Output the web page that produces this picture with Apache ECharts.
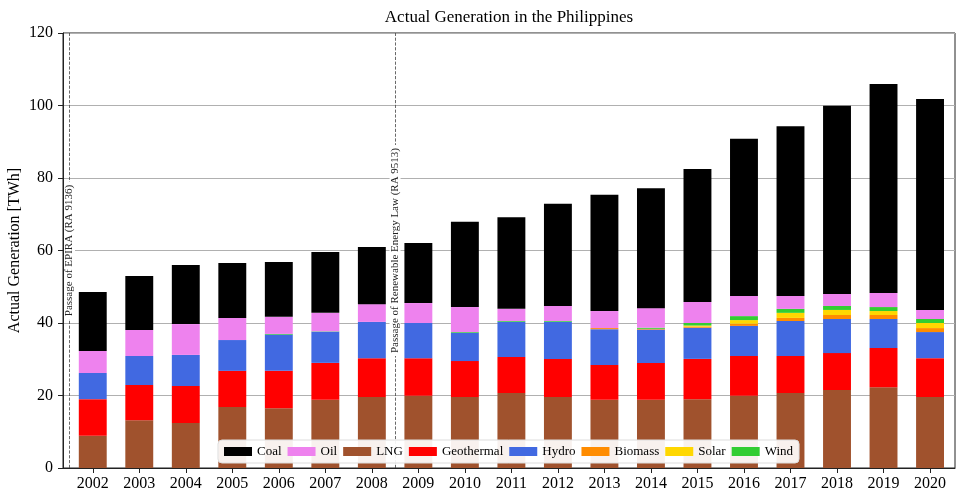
<!DOCTYPE html>
<html>
<head>
<meta charset="utf-8">
<script src="https://cdn.jsdelivr.net/npm/echarts@6/dist/echarts.min.js"></script>
<style>
html,body{margin:0;padding:0;background:#fff;}
#chart{width:960px;height:498px;}
</style>
</head>
<body>
<div id="chart"></div>
<script>
var years = [2002,2003,2004,2005,2006,2007,2008,2009,2010,2011,2012,2013,2014,2015,2016,2017,2018,2019,2020];
var lng        = [8.9,13.2,12.4,16.8,16.5,18.8,19.6,19.9,19.6,20.7,19.6,18.8,18.8,19.0,19.9,20.7,21.5,22.3,19.6];
var geothermal = [10.1,9.7,10.2,10.0,10.3,10.2,10.7,10.4,9.9,9.9,10.5,9.6,10.2,11.1,11.0,10.2,10.2,10.8,10.7];
var hydro      = [7.2,8.0,8.6,8.5,10.0,8.6,10.0,9.7,7.8,9.75,10.25,9.9,9.2,8.6,8.3,9.65,9.4,8.0,7.2];
var biomass    = [0,0,0,0,0,0,0,0,0,0,0,0.3,0.2,0.3,0.6,0.85,1.1,1.1,1.1];
var solar      = [0,0,0,0,0,0,0,0,0,0,0,0,0,0.3,1.0,1.4,1.4,1.1,1.4];
var wind       = [0,0,0,0,0.2,0.1,0,0,0.2,0.2,0.2,0,0.3,0.7,1.1,1.1,1.1,1.1,1.1];
var oil        = [6.1,7.2,8.5,6.1,4.7,5.1,4.9,5.5,6.9,3.35,4.15,4.7,5.4,5.8,5.55,3.55,3.3,3.9,2.5];
var coal       = [16.25,14.9,16.3,15.15,15.1,16.8,15.8,16.6,23.5,25.3,28.2,32.1,33.1,36.7,43.35,46.85,51.9,57.6,58.2];
var eventYears  = [2001.5, 2008.5];
var eventLabels = ['Passage of EPIRA (RA 9136)', 'Passage of Renewable Energy Law (RA 9513)'];
var legendOrder = ['Coal','Oil','LNG','Geothermal','Hydro','Biomass','Solar','Wind'];
var yTicks = {min: 0, max: 120, interval: 20};

var FONT = '"Liberation Serif", "DejaVu Serif", serif';
var stackDefs = [
  {name:'LNG', data:lng, color:'#A0522D'},
  {name:'Geothermal', data:geothermal, color:'#FF0000'},
  {name:'Hydro', data:hydro, color:'#4169E1'},
  {name:'Biomass', data:biomass, color:'#FF8C00'},
  {name:'Solar', data:solar, color:'#FFD700'},
  {name:'Wind', data:wind, color:'#32CD32'},
  {name:'Oil', data:oil, color:'#EE82EE'},
  {name:'Coal', data:coal, color:'#000000'}
];

var series = stackDefs.map(function(d){
  return {
    name: d.name,
    type: 'bar',
    stack: 'gen',
    xAxisIndex: 0,
    yAxisIndex: 0,
    barWidth: '60%',
    itemStyle: {color: d.color},
    data: d.data
  };
});

// annotation lines drawn on the frame grid's continuous year axis
series.push({
  name: 'events',
  type: 'line',
  xAxisIndex: 1,
  yAxisIndex: 1,
  data: [],
  silent: true,
  markLine: {
    silent: true,
    symbol: ['none','none'],
    lineStyle: {type: 'dashed', color: '#444', width: 0.8},
    label: {
      show: true,
      position: 'middle',
      distance: 0,
      verticalAlign: 'middle',
      fontFamily: FONT,
      fontSize: 11,
      color: '#222',
      backgroundColor: '#fff',
      padding: [0, 3],
      formatter: function(p){ return p.name; }
    },
    data: eventYears.map(function(x, k){ return {xAxis: x, name: eventLabels[k]}; })
  }
});

var chart = echarts.init(document.getElementById('chart'));
chart.setOption({
  animation: false,
  backgroundColor: '#fff',
  title: {
    text: 'Actual Generation in the Philippines',
    left: 504,
    textAlign: 'center',
    top: 4,
    textStyle: {fontFamily: FONT, fontSize: 17, fontWeight: 'normal', color: '#000'}
  },
  legend: {
    data: legendOrder,
    bottom: 35,
    left: 218,
    itemWidth: 28,
    itemHeight: 9,
    itemGap: 6,
    padding: [5, 6],
    backgroundColor: 'rgba(255,255,255,0.92)',
    borderColor: '#ddd',
    borderWidth: 1,
    borderRadius: 4,
    textStyle: {fontFamily: FONT, fontSize: 13, color: '#000'},
    icon: 'rect',
    z: 10
  },
  grid: [
    {left: 69.5, right: 6.7, top: 33, bottom: 30, show: false, containLabel: false, outerBoundsMode: 'none'},
    {left: 63, right: 5, top: 33, bottom: 30, show: true, borderColor: '#222', borderWidth: 1, containLabel: false, outerBoundsMode: 'none'}
  ],
  xAxis: [
    {
      type: 'category',
      gridIndex: 0,
      data: years,
      axisLine: {show: false},
      axisTick: {show: true, alignWithLabel: true, length: 5, lineStyle: {color: '#222'}},
      axisLabel: {fontFamily: FONT, fontSize: 16, color: '#000', margin: 8, interval: 0},
      splitLine: {show: false}
    },
    {
      type: 'value',
      gridIndex: 1,
      min: 2001.36,
      max: 2020.54,
      axisLine: {show: true, lineStyle: {color: '#222'}},
      axisTick: {show: false},
      axisLabel: {show: false},
      splitLine: {show: false}
    }
  ],
  yAxis: [
    {
      type: 'value', gridIndex: 0,
      min: yTicks.min, max: yTicks.max, interval: yTicks.interval,
      show: false,
      splitLine: {show: false}
    },
    {
      type: 'value', gridIndex: 1,
      min: yTicks.min, max: yTicks.max, interval: yTicks.interval,
      name: 'Actual Generation [TWh]',
      nameLocation: 'middle',
      nameGap: 40,
      nameMoveOverlap: false,
      nameTextStyle: {fontFamily: FONT, fontSize: 16, color: '#000'},
      axisLine: {show: true, lineStyle: {color: '#222'}},
      axisTick: {show: true, length: 5, inside: false, lineStyle: {color: '#222'}},
      axisLabel: {fontFamily: FONT, fontSize: 16, color: '#000', margin: 10},
      splitLine: {show: true, lineStyle: {color: '#b0b0b0', width: 1}},
      z: 0
    }
  ],
  series: series
});
</script>
</body>
</html>
